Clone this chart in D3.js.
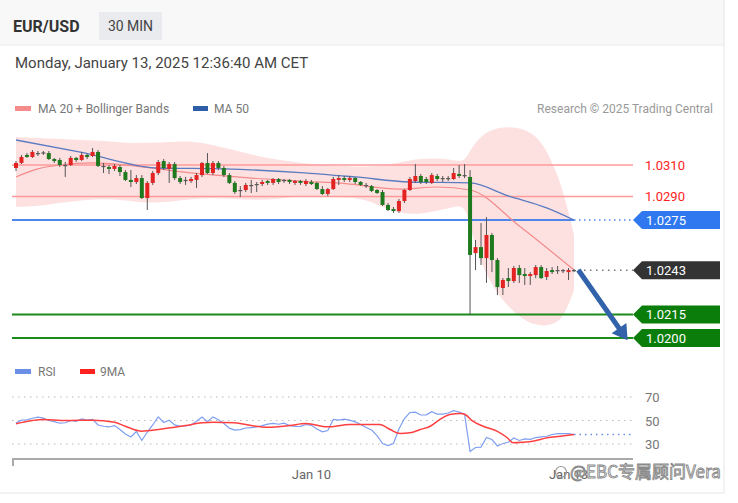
<!DOCTYPE html>
<html><head><meta charset="utf-8">
<script src="https://cdn.jsdelivr.net/npm/d3@7"></script>
<style>body{margin:0;background:#fff;} svg{display:block;font-family:Roboto,"Liberation Sans",Arial,sans-serif;}</style>
</head><body><svg id="c" width="738" height="503"></svg>
<script>
// ---- DATA (30-min candles, index 0..102) ----
const open = [1.03081,1.03113,1.03164,1.03151,1.03176,1.03173,1.03176,1.03138,1.03132,1.03100,
1.03100,1.03145,1.03132,1.03164,1.03157,1.03183,1.03094,1.03087,1.03075,1.03087,
1.03055,1.03005,1.02992,1.03017,1.02890,1.02986,1.03049,1.03125,1.03075,1.03106,
1.03017,1.03005,1.02998,1.03005,1.03036,1.03113,1.03049,1.03113,1.03081,1.03036,
1.02986,1.02941,1.02941,1.02973,1.02979,1.02979,1.02998,1.02986,1.03011,1.02998,
1.03005,1.02986,1.02998,1.02979,1.02992,1.02986,1.02947,1.02916,1.02947,1.03005,
1.03017,1.03005,1.03017,1.02992,1.02973,1.02966,1.02941,1.02928,1.02846,1.02820,
1.02807,1.02871,1.02941,1.02998,1.03030,1.03011,1.02986,1.03030,1.03017,1.03011,
1.03011,1.03043,1.03036,1.03024,1.02540,1.02578,1.02508,1.02655,1.02496,1.02318,
1.02381,1.02362,1.02445,1.02407,1.02394,1.02400,1.02451,1.02388,1.02432,1.02426,
1.02432,1.02419,1.02426];
const high = [1.03125,1.03164,1.03176,1.03195,1.03189,1.03189,1.03189,1.03145,1.03145,1.03119,
1.03157,1.03151,1.03183,1.03170,1.03208,1.03195,1.03113,1.03100,1.03106,1.03100,
1.03068,1.03068,1.03036,1.03036,1.02998,1.03062,1.03132,1.03138,1.03119,1.03119,
1.03030,1.03024,1.03024,1.03049,1.03119,1.03176,1.03125,1.03125,1.03094,1.03049,
1.02998,1.02966,1.02986,1.03005,1.02992,1.03005,1.03005,1.03017,1.03017,1.03011,
1.03011,1.03005,1.03005,1.03011,1.03005,1.02992,1.02966,1.02954,1.03024,1.03036,
1.03030,1.03030,1.03024,1.02998,1.02986,1.02973,1.02947,1.02941,1.02858,1.02833,
1.02884,1.02947,1.03024,1.03106,1.03043,1.03024,1.03049,1.03043,1.03030,1.03030,
1.03081,1.03100,1.03106,1.03068,1.02623,1.02731,1.02769,1.02668,1.02508,1.02381,
1.02445,1.02458,1.02464,1.02445,1.02419,1.02464,1.02464,1.02445,1.02451,1.02458,
1.02439,1.02445,1.02439];
const low = [1.03062,1.03106,1.03145,1.03145,1.03157,1.03164,1.03132,1.03113,1.03087,1.03024,
1.03094,1.03119,1.03125,1.03138,1.03151,1.03087,1.03049,1.03043,1.03062,1.03030,
1.02998,1.02960,1.02979,1.02884,1.02814,1.02973,1.03036,1.03068,1.02986,1.03005,
1.02979,1.02973,1.02986,1.02954,1.03024,1.03043,1.03036,1.03068,1.03024,1.02979,
1.02916,1.02896,1.02928,1.02922,1.02928,1.02966,1.02973,1.02973,1.02979,1.02986,
1.02979,1.02973,1.02973,1.02966,1.02973,1.02941,1.02909,1.02903,1.02941,1.02973,
1.02992,1.02992,1.02979,1.02966,1.02954,1.02928,1.02916,1.02839,1.02807,1.02795,
1.02795,1.02858,1.02935,1.02986,1.02979,1.02979,1.02979,1.02998,1.02992,1.02998,
1.03005,1.03017,1.03017,1.02146,1.02432,1.02464,1.02350,1.02419,1.02273,1.02273,
1.02324,1.02350,1.02350,1.02337,1.02337,1.02381,1.02375,1.02369,1.02407,1.02407,
1.02413,1.02369,1.02419];
const close = [1.03113,1.03151,1.03151,1.03183,1.03170,1.03180,1.03138,1.03125,1.03100,1.03094,
1.03145,1.03132,1.03164,1.03151,1.03183,1.03094,1.03087,1.03075,1.03094,1.03055,
1.03005,1.02992,1.03017,1.02890,1.02986,1.03049,1.03119,1.03081,1.03106,1.03017,
1.02992,1.02998,1.03011,1.03036,1.03113,1.03049,1.03113,1.03081,1.03036,1.02986,
1.02928,1.02935,1.02973,1.02966,1.02973,1.02992,1.02986,1.03011,1.02992,1.03005,
1.02992,1.02998,1.02986,1.02998,1.02979,1.02947,1.02916,1.02947,1.03011,1.03017,
1.03005,1.03017,1.02992,1.02973,1.02966,1.02935,1.02922,1.02846,1.02814,1.02807,
1.02871,1.02941,1.03011,1.03030,1.02992,1.02992,1.03036,1.03011,1.03011,1.03017,
1.03049,1.03030,1.03030,1.02528,1.02578,1.02508,1.02655,1.02496,1.02324,1.02369,
1.02362,1.02445,1.02400,1.02394,1.02407,1.02451,1.02381,1.02426,1.02419,1.02432,
1.02426,1.02432,1.02432];

// moving averages: [candle index, price]
const ma50 = [[0,1.03259],[12,1.03180],[26,1.03081],[38,1.03075],[52,1.03052],[62,1.03024],[72,1.02992],[83,1.02986],[90,1.02903],[97,1.02827],[102,1.02750]];
const ma20 = [[0,1.03024],[4,1.03075],[8,1.03100],[14,1.03113],[20,1.03100],[26,1.03075],[34,1.03043],[43,1.03017],[52,1.02998],[61,1.02979],[70,1.02947],[77,1.02960],[83,1.02941],[92,1.02712],[102,1.02432]];
const bbIndex = [0,4,8,12,16,20,24,28,32,36,40,44,48,52,56,60,64,68,72,76,80,82,83,85,88,92,95,97,99,100,101,102];
const bbUpper = [1.03278,1.03272,1.03265,1.03259,1.03253,1.03240,1.03240,1.03246,1.03253,1.03227,1.03195,1.03157,1.03132,1.03113,1.03100,1.03094,1.03087,1.03100,1.03132,1.03145,1.03132,1.03119,1.03195,1.03291,1.03342,1.03342,1.03291,1.03195,1.03036,1.02928,1.02801,1.02655];
const bbLower = [1.02833,1.02839,1.02858,1.02877,1.02884,1.02877,1.02858,1.02865,1.02884,1.02890,1.02884,1.02877,1.02884,1.02903,1.02896,1.02896,1.02884,1.02814,1.02782,1.02801,1.02833,1.02846,1.02718,1.02464,1.02273,1.02127,1.02082,1.02076,1.02102,1.02140,1.02210,1.02305];

// key levels
const resistLevels = [1.0310, 1.0290];
const supportLevels = [1.0215, 1.0200];
const pivotLevel = 1.0275;
const lastPrice = 1.0243;
const arrowFrom = [102.8, 1.02432];
const arrowTo = [111.8, 1.01985];

// RSI (one per candle) and its 9-period MA [index, value]
const rsi = [47.9,50.3,50.5,51.9,52.8,52.0,50.0,49.1,47.7,48.1,
50.0,49.2,51.4,50.4,50.9,46.2,45.1,44.5,45.7,42.3,
38.5,36.0,40.6,33.0,40.2,46.2,53.1,48.3,50.2,46.3,
45.1,45.3,46.2,49.3,52.9,49.0,53.1,50.7,47.4,43.5,
41.9,42.3,43.6,44.0,44.5,45.6,46.9,47.6,46.8,47.7,
45.6,44.9,45.0,46.6,45.9,42.8,40.4,41.5,50.9,50.3,
51.2,50.3,48.8,46.6,44.0,41.9,37.2,30.4,28.6,30.4,
42.8,51.7,56.8,57.1,54.7,54.8,57.5,55.4,55.5,56.4,
58.3,57.1,55.3,23.6,27.0,27.4,35.5,33.8,28.3,30.4,
31.5,35.1,33.0,34.3,34.0,35.5,36.1,36.6,38.1,38.9,
38.9,38.8,38.1];
const rsiMA = [[0,47.2],[3,50.0],[5,50.9],[9,50.0],[14,50.3],[18,48.6],[20,45.1],[23,40.9],[26,42.3],[29,44.3],[31,45.7],[34,48.0],[36,48.6],[40,48.0],[43,45.7],[46,44.3],[50,45.7],[53,47.4],[57,44.6],[61,46.6],[66.5,46.6],[68.4,42.3],[70.2,38.9],[72,39.5],[73.9,42.3],[75.7,45.1],[77.5,50.9],[79.3,55.1],[81.2,56.0],[82.1,55.1],[83.5,49.4],[85.4,45.1],[87.9,40.9],[89.8,35.3],[90.9,31.0],[92.7,31.5],[94.5,32.4],[97.1,35.3],[99.5,36.6],[102,38.1]];
const rsiTicks = [70, 50, 30];
const xTicks = [[54, "Jan 10"], [101, "Jan 13"]];

// ---- DRAW ----
const svg = d3.select("#c");
const W = 724, plotL = 12, plotR = 633;
const x = d3.scaleLinear().domain([0, 102]).range([16, 574]);
const y = d3.scaleLinear().domain([1.0200, 1.0310]).range([338, 165]);
const yr = d3.scaleLinear().domain([30, 70]).range([444, 397]);

// header
svg.append("rect").attr("x",0).attr("y",0).attr("width",W).attr("height",45).attr("fill","#f8f8f8");
svg.append("line").attr("x1",0).attr("x2",W).attr("y1",45).attr("y2",45).attr("stroke","#ececec");
svg.append("line").attr("x1",W).attr("x2",W).attr("y1",0).attr("y2",493).attr("stroke","#e6e6e6");
svg.append("line").attr("x1",0).attr("x2",W).attr("y1",493).attr("y2",493).attr("stroke","#e6e6e6");
svg.append("text").attr("x",13).attr("y",32).attr("font-size",16).attr("font-weight","bold").attr("fill","#333").text("EUR/USD");
svg.append("rect").attr("x",99).attr("y",12).attr("width",63).attr("height",28).attr("fill","#e9ebee");
svg.append("text").attr("x",130.5).attr("y",31).attr("text-anchor","middle").attr("font-size",14).attr("fill","#444").text("30 MIN");
svg.append("text").attr("x",15).attr("y",68).attr("font-size",15).attr("fill","#444").text("Monday, January 13, 2025 12:36:40 AM CET");

// legend
svg.append("rect").attr("x",15).attr("y",106).attr("width",16).attr("height",5).attr("fill","#f58c8c");
svg.append("text").attr("x",38).attr("y",113).attr("font-size",12).attr("fill","#777").text("MA 20 + Bollinger Bands");
svg.append("rect").attr("x",193).attr("y",106).attr("width",15).attr("height",5).attr("fill","#2f5ea8");
svg.append("text").attr("x",214).attr("y",113).attr("font-size",12).attr("fill","#777").text("MA 50");
svg.append("text").attr("x",713).attr("y",113).attr("text-anchor","end").attr("font-size",12).attr("fill","#999").text("Research © 2025 Trading Central");

// bollinger band fill
const bb = bbIndex.map((i, k) => ({i, u: bbUpper[k], l: bbLower[k]}));
svg.append("path").datum(bb)
  .attr("d", d3.area().x(d => x(d.i)).y0(d => y(d.l)).y1(d => y(d.u)).curve(d3.curveBasis))
  .attr("fill", "#fde1e1");

// resistance levels
resistLevels.forEach(v => {
  svg.append("line").attr("x1",plotL).attr("x2",plotR).attr("y1",y(v)).attr("y2",y(v)).attr("stroke","#ff9a9a").attr("stroke-width",1.5);
  svg.append("text").attr("x",645).attr("y",y(v)+5).attr("font-size",13).attr("fill","#ff2222").text(v.toFixed(4));
});
// pivot (blue)
svg.append("line").attr("x1",plotL).attr("x2",x(102)).attr("y1",y(pivotLevel)).attr("y2",y(pivotLevel)).attr("stroke","#4f86ec").attr("stroke-width",2);
svg.append("line").attr("x1",x(102)).attr("x2",plotR).attr("y1",y(pivotLevel)).attr("y2",y(pivotLevel)).attr("stroke","#4f86ec").attr("stroke-width",1.5).attr("stroke-dasharray","1.5,3.5");
// supports
supportLevels.forEach(v => {
  svg.append("line").attr("x1",plotL).attr("x2",plotR).attr("y1",y(v)).attr("y2",y(v)).attr("stroke","#1a8a1a").attr("stroke-width",2);
});
// last price dotted
svg.append("line").attr("x1",x(102)+4).attr("x2",plotR).attr("y1",y(lastPrice)).attr("y2",y(lastPrice)).attr("stroke","#777").attr("stroke-width",1.5).attr("stroke-dasharray","1.5,4.5");

// MA lines
const lineP = d3.line().x(d => x(d[0])).y(d => y(d[1]));
svg.append("path").datum(ma20).attr("d", lineP.curve(d3.curveMonotoneX)).attr("fill","none").attr("stroke","#f48a8a").attr("stroke-width",1.2);
svg.append("path").datum(ma50).attr("d", d3.line().x(d => x(d[0])).y(d => y(d[1])).curve(d3.curveMonotoneX)).attr("fill","none").attr("stroke","#5b7bc0").attr("stroke-width",1.3);

// candles
const candles = open.map((o, i) => ({i, o, h: high[i], l: low[i], c: close[i]}));
const cg = svg.append("g");
cg.selectAll("line.w").data(candles).join("line")
  .attr("x1", d => x(d.i)).attr("x2", d => x(d.i))
  .attr("y1", d => y(d.h)).attr("y2", d => y(d.l))
  .attr("stroke", "#555").attr("stroke-width", 1);
cg.selectAll("rect").data(candles).join("rect")
  .attr("x", d => x(d.i) - 2).attr("width", 4)
  .attr("y", d => y(Math.max(d.o, d.c)))
  .attr("height", d => Math.max(1.2, Math.abs(y(d.o) - y(d.c))))
  .attr("fill", d => Math.abs(y(d.o) - y(d.c)) < 1.5 ? "#555" : (d.c >= d.o ? "#e32222" : "#1f7a1f"));

// arrow
{
  const x0 = x(arrowFrom[0]), y0 = y(arrowFrom[1]), x1 = x(arrowTo[0]), y1 = y(arrowTo[1]);
  const dx = x1 - x0, dy = y1 - y0, len = Math.hypot(dx, dy), ux = dx/len, uy = dy/len, px = -uy, py = ux;
  const hl = 15, hw = 9;
  const bx = x1 - ux*hl, by = y1 - uy*hl;
  svg.append("line").attr("x1",x0).attr("y1",y0).attr("x2",bx+ux*2).attr("y2",by+uy*2).attr("stroke","#3263aa").attr("stroke-width",5);
  svg.append("path").attr("d",`M${x1},${y1}L${bx+px*hw},${by+py*hw}L${bx-px*hw},${by-py*hw}Z`).attr("fill","#3263aa");
}

// tags
function tag(v, color) {
  const yc = y(v);
  svg.append("path").attr("d",`M${plotR},${yc}L${plotR+9},${yc-9}L720,${yc-9}L720,${yc+9}L${plotR+9},${yc+9}Z`).attr("fill",color);
  svg.append("text").attr("x",646).attr("y",yc+4.5).attr("font-size",13).attr("fill","#fff").text(v.toFixed(4));
}
tag(pivotLevel, "#2f78f0");
tag(lastPrice, "#333333");
supportLevels.forEach(v => tag(v, "#0b7d0b"));

// RSI panel
svg.append("rect").attr("x",15).attr("y",369).attr("width",16).attr("height",5).attr("fill","#6b8fe6");
svg.append("text").attr("x",38).attr("y",376).attr("font-size",12).attr("fill","#777").text("RSI");
svg.append("rect").attr("x",80).attr("y",369).attr("width",15).attr("height",5).attr("fill","#ff2020");
svg.append("text").attr("x",100).attr("y",376).attr("font-size",12).attr("fill","#777").text("9MA");
rsiTicks.forEach(t => {
  svg.append("line").attr("x1",plotL).attr("x2",plotR).attr("y1",yr(t)).attr("y2",yr(t)).attr("stroke","#bbb").attr("stroke-width",1).attr("stroke-dasharray","1.5,4.5");
  svg.append("text").attr("x",645).attr("y",yr(t)+5).attr("font-size",13).attr("fill","#777").text(t);
});
svg.append("path").datum(rsi).attr("d", d3.line().x((d,i) => x(i)).y(d => yr(d))).attr("fill","none").attr("stroke","#7e9ef0").attr("stroke-width",1.2);
svg.append("line").attr("x1",x(102)).attr("x2",plotR).attr("y1",yr(rsi[102])).attr("y2",yr(rsi[102])).attr("stroke","#6b8fe6").attr("stroke-width",1.5).attr("stroke-dasharray","1.5,4");
svg.append("path").datum(rsiMA).attr("d", d3.line().x(d => x(d[0])).y(d => yr(d[1])).curve(d3.curveMonotoneX)).attr("fill","none").attr("stroke","#ff4040").attr("stroke-width",1.5);

// x axis
svg.append("line").attr("x1",plotL).attr("x2",plotR).attr("y1",459).attr("y2",459).attr("stroke","#aaa").attr("stroke-width",2);
svg.append("line").attr("x1",plotL+1).attr("x2",plotL+1).attr("y1",459).attr("y2",466).attr("stroke","#aaa").attr("stroke-width",2);
xTicks.forEach(([i, lab]) => {
  svg.append("text").attr("x",x(i)).attr("y",479).attr("text-anchor","middle").attr("font-size",13).attr("fill","#666").text(lab);
});

// watermark
svg.append("text").attr("x",570).attr("y",478).attr("font-size",17).attr("fill","#fff").attr("stroke","#8a8a8a").attr("stroke-width",0.9)
  .attr("font-family","'Noto Sans CJK SC', sans-serif").text("@EBC专属顾问Vera");
svg.append("circle").attr("cx",561).attr("cy",472).attr("r",5.5).attr("fill","none").attr("stroke","#999").attr("stroke-width",1.2);
</script></body></html>
